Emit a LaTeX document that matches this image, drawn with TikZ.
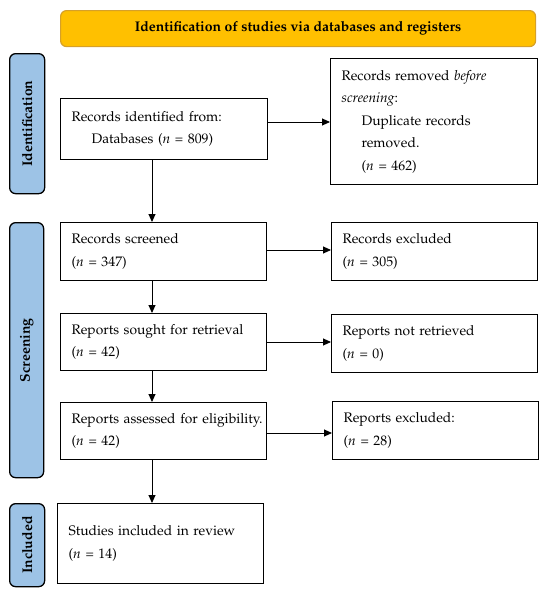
\documentclass[tikz,border=0pt]{standalone}
\usepackage[T1]{fontenc}
\usepackage{mathpazo}
\usetikzlibrary{arrows.meta}
\definecolor{titlefill}{RGB}{255,192,0}
\definecolor{titledraw}{RGB}{214,160,40}
\definecolor{barfill}{RGB}{157,195,230}
\begin{document}
\begin{tikzpicture}[x=1pt,y=-1pt,
  box/.style={draw=black, line width=1.3pt, fill=white, inner xsep=11pt, inner ysep=3pt,
    align=left, anchor=north west, font=\fontsize{13.8}{22.5}\selectfont},
  bar/.style={draw=black, line width=1.3pt, fill=barfill, rounded corners=6pt, anchor=north west},
  barlabel/.style={rotate=90, font=\fontsize{14}{16}\selectfont\bfseries},
  arr/.style={line width=0.9pt, -{Triangle[length=8pt,width=7pt]}}]
\useasboundingbox (0,0) rectangle (550,592);
% title
\node[draw=titledraw, line width=1.2pt, fill=titlefill, rounded corners=6pt, anchor=north west,
  minimum width=475pt, minimum height=36pt, font=\fontsize{14}{16}\selectfont\bfseries] (title) at (60,10)
  {Identification of studies via databases and registers};
% side bars
\node[bar, minimum width=35pt, minimum height=140pt] (idbar) at (9,53) {};
\node[barlabel] (idlab) at (idbar.center) {Identification};
\node[bar, minimum width=34pt, minimum height=255pt] (scbar) at (9,222) {};
\node[barlabel] (sclab) at (scbar.center) {Screening};
\node[bar, minimum width=35pt, minimum height=83pt] (inbar) at (9,503) {};
\node[barlabel] (inlab) at (inbar.center) {Included};
% boxes
\node[box, minimum width=207pt, minimum height=61pt, text width=185pt] (A) at (60,98)
  {Records identified from:\\\hspace*{20pt}Databases (\textit{n} = 809)};
\node[box, minimum width=207pt, minimum height=126pt, text width=185pt] (B) at (330,58)
  {Records removed \textit{before}\\\textit{screening}:\\\hspace*{20pt}Duplicate records\\\hspace*{20pt}removed.\\\hspace*{20pt}(\textit{n} = 462)};
\node[box, minimum width=206pt, minimum height=58pt, text width=184pt] (S1) at (60,222)
  {Records screened\\(\textit{n} = 347)};
\node[box, minimum width=206pt, minimum height=58pt, text width=184pt] (E1) at (331,222)
  {Records excluded\\(\textit{n} = 305)};
\node[box, minimum width=206pt, minimum height=57pt, text width=184pt] (S2) at (60,313)
  {Reports sought for retrieval\\(\textit{n} = 42)};
\node[box, minimum width=206pt, minimum height=58pt, text width=184pt] (E2) at (331,314)
  {Reports not retrieved\\(\textit{n} = 0)};
\node[box, minimum width=206pt, minimum height=57pt, text width=184pt] (S3) at (60,402)
  {\mbox{Reports assessed for eligibility.}\\(\textit{n} = 42)};
\node[box, minimum width=206pt, minimum height=58pt, text width=184pt] (E3) at (332,401)
  {Reports excluded:\\(\textit{n} = 28)};
\node[box, minimum width=206pt, minimum height=80pt, text width=184pt] (S4) at (57,503)
  {Studies included in review\\(\textit{n} = 14)};
% arrows
\draw[arr] (A.east |- 0,122) -- (B.west |- 0,122);
\draw[arr] (S1.east |- 0,250) -- (E1.west |- 0,250);
\draw[arr] (S2.east |- 0,342) -- (E2.west |- 0,342);
\draw[arr] (S3.east |- 0,433) -- (E3.west |- 0,433);
\draw[arr] (A.south -| 152,0) -- (S1.north -| 152,0);
\draw[arr] (S1.south -| 152,0) -- (S2.north -| 152,0);
\draw[arr] (S2.south -| 152,0) -- (S3.north -| 152,0);
\draw[arr] (S3.south -| 152,0) -- (S4.north -| 152,0);
\end{tikzpicture}
\end{document}
